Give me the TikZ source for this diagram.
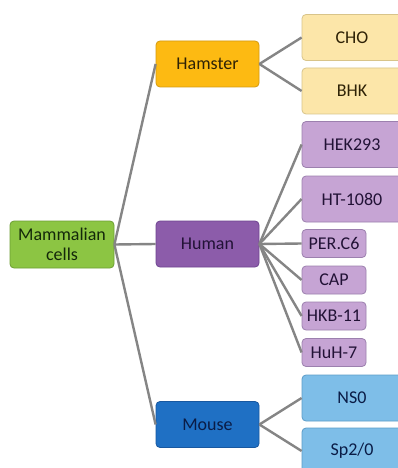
\documentclass[tikz,border=0pt]{standalone}
\usepackage{fontspec}
\setmainfont{Carlito}
\begin{document}
\begin{tikzpicture}[x=1pt,y=-1pt,
  box/.style={draw, line width=0.8pt, rounded corners=4pt, align=center, inner sep=0pt,
    font=\fontsize{18}{20}\selectfont},
  root/.style={box, fill=mgreen, draw=mgreenD, text=mgreenT, minimum width=104pt, minimum height=47pt},
  grp/.style={box, minimum width=103pt, minimum height=46pt},
  big/.style={box, minimum width=100pt, minimum height=46pt},
  small/.style={box, minimum width=64pt, minimum height=28pt},
  link/.style={draw=linkgray, line width=2.4pt}
]
\definecolor{mgreen}{HTML}{8CC543}
\definecolor{mgreenD}{HTML}{6C9E32}
\definecolor{mgreenT}{HTML}{14280A}
\definecolor{hamF}{HTML}{FDBA12}
\definecolor{hamD}{HTML}{D49A10}
\definecolor{hamT}{HTML}{2E2206}
\definecolor{hamC}{HTML}{FCE6A9}
\definecolor{hamCD}{HTML}{D8C48A}
\definecolor{humF}{HTML}{8C5CAA}
\definecolor{humD}{HTML}{6E4490}
\definecolor{humT}{HTML}{221236}
\definecolor{humC}{HTML}{C6A4D4}
\definecolor{humCD}{HTML}{9C80AE}
\definecolor{mouF}{HTML}{1F70C4}
\definecolor{mouD}{HTML}{1858A0}
\definecolor{mouT}{HTML}{0A1C46}
\definecolor{mouC}{HTML}{7EBEE8}
\definecolor{mouCD}{HTML}{5C9CC8}
\definecolor{linkgray}{HTML}{858585}
\useasboundingbox (0,0) rectangle (398,468);
\fill[white] (0,0) rectangle (398,468);
\clip (0,0) rectangle (398,468);

\node[root] (mam) at (62,244.5) {Mammalian\\cells};
\node[grp, fill=hamF, draw=hamD, text=hamT] (ham) at (207.5,64) {Hamster};
\node[grp, fill=humF, draw=humD, text=humT] (hum) at (207.5,244) {Human};
\node[grp, fill=mouF, draw=mouD, text=mouT] (mou) at (207.5,424.5) {Mouse};

\node[big, fill=hamC, draw=hamCD, text=hamT] (cho) at (352,37.5) {CHO};
\node[big, fill=hamC, draw=hamCD, text=hamT] (bhk) at (352,91) {BHK};

\node[big, fill=humC, draw=humCD, text=humT] (hek) at (352,144.5) {HEK293};
\node[big, fill=humC, draw=humCD, text=humT] (ht) at (352,199) {HT-1080};
\node[small, fill=humC, draw=humCD, text=humT] (per) at (334,243.5) {PER.C6};
\node[small, fill=humC, draw=humCD, text=humT] (cap) at (334,280) {CAP};
\node[small, fill=humC, draw=humCD, text=humT] (hkb) at (334,316) {HKB-11};
\node[small, fill=humC, draw=humCD, text=humT] (huh) at (334,352.5) {HuH-7};

\node[big, fill=mouC, draw=mouCD, text=mouT] (ns) at (352,398) {NS0};
\node[big, fill=mouC, draw=mouCD, text=mouT] (sp) at (352,451) {Sp2/0};

\foreach \c in {ham,hum,mou} \draw[link] (mam.east) -- (\c.west);
\foreach \c in {cho,bhk} \draw[link] (ham.east) -- (\c.west);
\foreach \c in {hek,ht,per,cap,hkb,huh} \draw[link] (hum.east) -- (\c.west);
\foreach \c in {ns,sp} \draw[link] (mou.east) -- (\c.west);
\end{tikzpicture}
\end{document}
